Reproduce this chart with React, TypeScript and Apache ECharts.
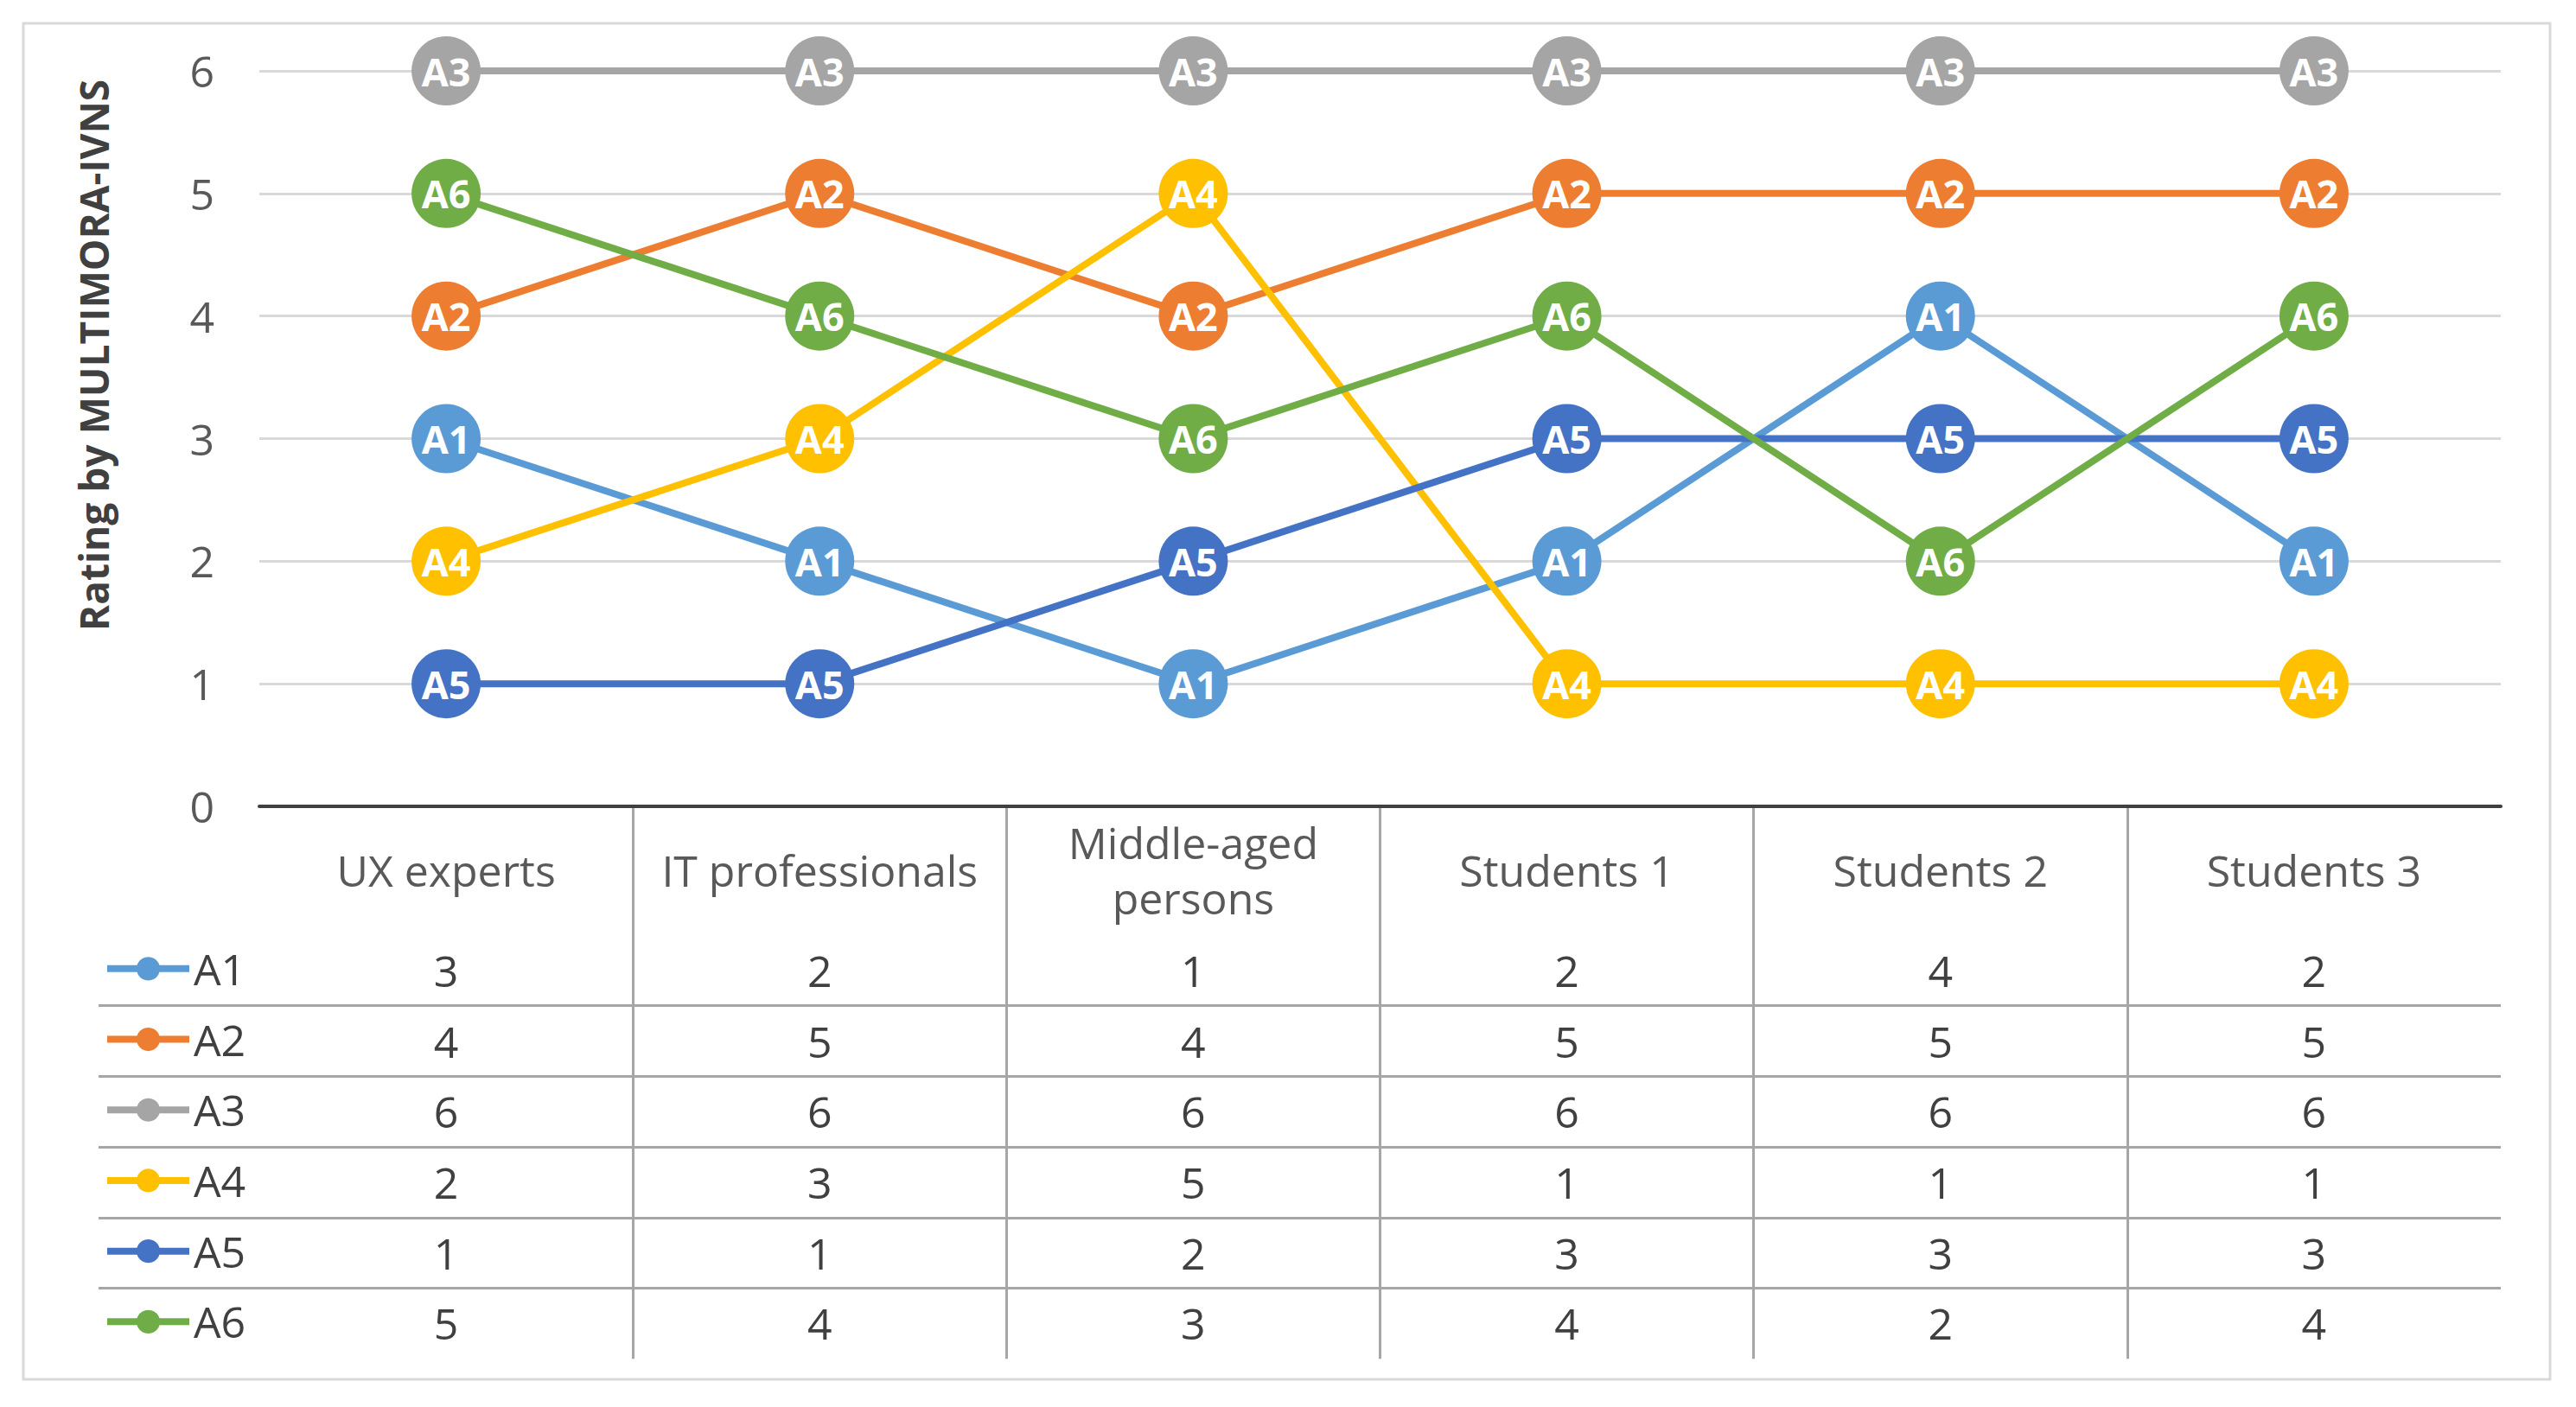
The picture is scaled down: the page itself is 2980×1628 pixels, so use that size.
import React, { useEffect, useRef } from "react";
import * as echarts from "echarts";

// ---------- data ----------
const categories = [
  "UX experts",
  "IT professionals",
  "Middle-aged persons",
  "Students 1",
  "Students 2",
  "Students 3",
];
const seriesNames = ["A1", "A2", "A3", "A4", "A5", "A6"];
const A1 = [3, 2, 1, 2, 4, 2];
const A2 = [4, 5, 4, 5, 5, 5];
const A3 = [6, 6, 6, 6, 6, 6];
const A4 = [2, 3, 5, 1, 1, 1];
const A5 = [1, 1, 2, 3, 3, 3];
const A6 = [5, 4, 3, 4, 2, 4];
const yMin = 0;
const yMax = 6;
const yStep = 1;
const axisTitle = "Rating by MULTIMORA-IVNS";
const colors = ["#5B9BD5", "#ED7D31", "#A5A5A5", "#FFC000", "#4472C4", "#70AD47"];

// ---------- layout ----------
const W = 2980;
const H = 1628;
const PLOT_L = 300;
const PLOT_R = 87;
const PLOT_T = 82;
const AXIS_Y = 933;
const ROW_TOP = 1082;
const ROW_H = 81.7;
const FS = 50;
const FONT = "'Open Sans', 'Noto Sans', sans-serif";
const TEXT = "#404040";
const TEXT2 = "#595959";
const TABLE_LINE = "#a6a6a6";

export default function App() {
  const ref = useRef<HTMLDivElement>(null);

  useEffect(() => {
    if (!ref.current) return;
    const chart = echarts.init(ref.current, null, { renderer: "svg", width: W, height: H });
    const rows = [A1, A2, A3, A4, A5, A6];

    const rowAxes = rows.map((vals, i) => ({
      gridIndex: 0,
      type: "category",
      data: categories,
      position: "bottom",
      offset: ROW_TOP + ROW_H * (i + 0.5) - AXIS_Y,
      axisLine: { show: false },
      axisTick: { show: false },
      splitLine: { show: false },
      axisLabel: {
        interval: 0,
        margin: 0,
        verticalAlign: "middle",
        fontSize: FS,
        fontFamily: FONT,
        color: TEXT,
        formatter: (_v: string, idx: number) => String(vals[idx]),
      },
    }));

    const option: any = {
      animation: false,
      backgroundColor: "#ffffff",
      textStyle: { fontFamily: FONT },
      grid: [
        { left: PLOT_L, right: PLOT_R, top: PLOT_T, bottom: H - AXIS_Y },
        { left: PLOT_L, right: PLOT_R, top: AXIS_Y, height: ROW_TOP + 6 * ROW_H - AXIS_Y },
        { left: 114, right: PLOT_R, top: ROW_TOP, height: 6 * ROW_H },
      ],
      xAxis: [
        {
          gridIndex: 0,
          type: "category",
          data: categories,
          boundaryGap: true,
          axisLine: { show: true, lineStyle: { color: "#404040", width: 4 } },
          axisTick: { show: false },
          splitLine: { show: false },
          axisLabel: {
            interval: 0,
            margin: 74,
            verticalAlign: "middle",
            fontSize: FS,
            lineHeight: 64,
            fontFamily: FONT,
            color: TEXT2,
            formatter: (v: string) => (v.length > 16 ? v.replace(" ", "\n") : v),
          },
        },
        ...rowAxes,
        {
          gridIndex: 1,
          type: "category",
          data: categories,
          axisLine: { show: false },
          axisTick: { show: false },
          axisLabel: { show: false },
          splitLine: {
            show: true,
            showMinLine: false,
            showMaxLine: false,
            lineStyle: { color: TABLE_LINE, width: 3 },
          },
        },
        { gridIndex: 2, type: "value", show: false, min: 0, max: 1 },
      ],
      yAxis: [
        {
          gridIndex: 0,
          type: "value",
          min: yMin,
          max: yMax,
          interval: yStep,
          axisLine: { show: false },
          axisTick: { show: false },
          axisLabel: { fontSize: FS, fontFamily: FONT, color: TEXT2, margin: 52 },
          splitLine: { show: true, lineStyle: { color: "#d9d9d9", width: 3 } },
        },
        { gridIndex: 1, type: "value", show: false, min: 0, max: 1 },
        {
          gridIndex: 2,
          type: "category",
          inverse: true,
          data: seriesNames,
          axisLine: { show: false },
          axisTick: { show: false },
          axisLabel: { show: false },
          splitLine: {
            show: true,
            showMinLine: false,
            showMaxLine: false,
            lineStyle: { color: TABLE_LINE, width: 3 },
          },
        },
      ],
      legend: {
        orient: "vertical",
        left: 120,
        top: ROW_TOP + ROW_H / 2 - 27,
        itemWidth: 95,
        itemHeight: 34,
        itemGap: ROW_H - FS,
        padding: 0,
        selectedMode: false,
        data: seriesNames,
        lineStyle: { width: 8 },
        textStyle: { fontSize: FS, lineHeight: FS, fontFamily: FONT, color: TEXT, padding: [0, 0, 0, 0] },
      },
      graphic: [
        {
          type: "rect",
          shape: { x: 27, y: 27, width: 2923, height: 1569 },
          style: { fill: "none", stroke: "#d9d9d9", lineWidth: 3 },
          silent: true,
        },
        {
          type: "text",
          x: 108,
          y: 411,
          rotation: Math.PI / 2,
          style: {
            text: axisTitle,
            fontSize: 46,
            fontWeight: "bold",
            fontFamily: FONT,
            fill: TEXT,
            align: "center",
            verticalAlign: "middle",
          },
          silent: true,
        },
      ],
      series: rows.map((vals, i) => ({
        name: seriesNames[i],
        type: "line",
        xAxisIndex: 0,
        yAxisIndex: 0,
        data: vals,
        symbol: "circle",
        symbolSize: 80,
        z: 2 + i,
        itemStyle: { color: colors[i] },
        lineStyle: { width: 8, color: colors[i] },
        emphasis: { disabled: true },
        label: {
          show: true,
          position: "inside",
          formatter: "{a}",
          color: "#ffffff",
          fontWeight: "bold",
          fontSize: 45,
          fontFamily: FONT,
        },
      })),
    };

    chart.setOption(option);
    return () => chart.dispose();
  }, []);

  return (
    <div
      ref={ref}
      style={{ position: "absolute", left: 0, top: 0, width: W, height: H, background: "#fff" }}
    />
  );
}
